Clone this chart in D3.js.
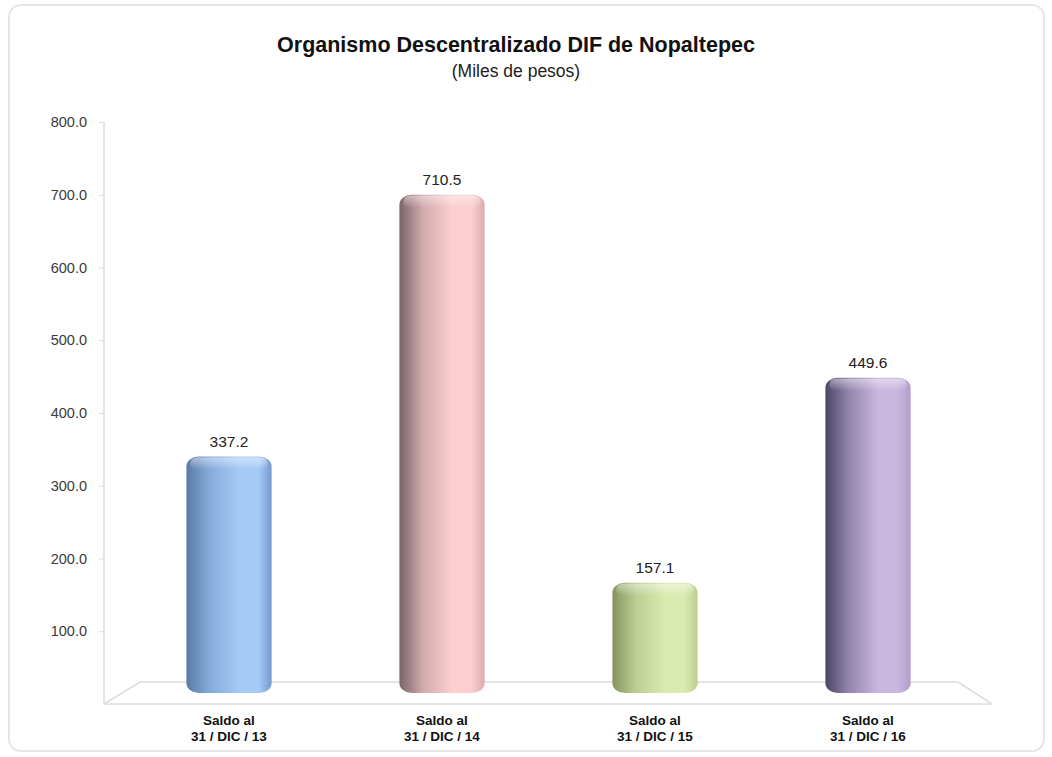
<!DOCTYPE html>
<html><head><meta charset="utf-8">
<script src="https://cdn.jsdelivr.net/npm/d3@7/dist/d3.min.js"></script>
<style>body{margin:0;background:#fff}svg{display:block}</style>
</head><body><svg id="c" width="1052" height="757"></svg>
<script>
const categories = ["Saldo al\n31 / DIC / 13","Saldo al\n31 / DIC / 14","Saldo al\n31 / DIC / 15","Saldo al\n31 / DIC / 16"];
const values = [337.2, 710.5, 157.1, 449.6];
const valueLabels = ["337.2","710.5","157.1","449.6"];
const yTicks = [100,200,300,400,500,600,700,800];
const palettes = [
  {dark:"#5a7ba6", mid:"#86acdc", light:"#a6caf6", edge:"#7499cc"},
  {dark:"#7a6468", mid:"#d3abaf", light:"#fbcfce", edge:"#dcaaad"},
  {dark:"#84945f", mid:"#bccf94", light:"#dbeab0", edge:"#bccd90"},
  {dark:"#4c4664", mid:"#9586ae", light:"#c9b7e0", edge:"#b09dcb"}
];
const FONT = "Liberation Sans, Arial, sans-serif";

const svg = d3.select("#c");
const defs = svg.append("defs");

svg.append("rect").attr("x",9).attr("y",5).attr("width",1035).attr("height",746)
  .attr("rx",12).attr("fill","#fff").attr("stroke","#e6e6e6").attr("stroke-width",2);

svg.append("text").attr("x",516).attr("y",52).attr("text-anchor","middle")
  .attr("font-family",FONT).attr("font-weight","bold")
  .attr("font-size",21.5).attr("fill","#111").text("Organismo Descentralizado DIF de Nopaltepec");
svg.append("text").attr("x",516).attr("y",77).attr("text-anchor","middle")
  .attr("font-family",FONT)
  .attr("font-size",17.5).attr("fill","#222").text("(Miles de pesos)");

// front-plane axis scale and back-plane (3D depth) bar scale
const y = d3.scaleLinear().domain([0,800]).range([704,122]);
const yBar = d3.scaleLinear().domain([0,800]).range([693,132]);
const x = d3.scaleBand().domain(categories).range([122.5,974.5]).paddingInner(0.6).paddingOuter(0.3);
const depth = 22, skew = 36;

const floorG = svg.append("g").attr("fill","none").attr("stroke","#dcdcdc").attr("stroke-width",1.5);
floorG.append("path").attr("d",
  `M104,${y(0)} L${104+skew},${y(0)-depth} L958,${y(0)-depth} L992,${y(0)}`);
floorG.append("line").attr("x1",104).attr("x2",992).attr("y1",y(0)).attr("y2",y(0));

const yAxis = d3.axisLeft(y).tickValues(yTicks).tickFormat(d3.format(".1f")).tickSize(5).tickPadding(12);
const ga = svg.append("g").attr("transform","translate(104,0)").call(yAxis);
ga.select(".domain").attr("stroke","#dcdcdc").attr("stroke-width",1.5).attr("d",`M0,${y(800)}V${y(0)}`);
ga.selectAll(".tick line").attr("stroke","#dcdcdc");
ga.selectAll(".tick text").attr("font-family",FONT)
  .attr("font-size",14.5).attr("fill","#3a3a3a");

const base = yBar(0);
categories.forEach((c,i)=>{
  const p = palettes[i];
  const gid = "g"+i;
  const lg = defs.append("linearGradient").attr("id",gid).attr("x1","0").attr("x2","1").attr("y1","0").attr("y2","0");
  [[0,p.dark],[0.28,p.mid],[0.62,p.light],[0.85,p.light],[1,p.edge]].forEach(s=>
    lg.append("stop").attr("offset",s[0]).attr("stop-color",s[1]));
  const tg = defs.append("linearGradient").attr("id","t"+i).attr("x1","0").attr("x2","0").attr("y1","0").attr("y2","1");
  tg.append("stop").attr("offset",0).attr("stop-color","#fff").attr("stop-opacity",0.45);
  tg.append("stop").attr("offset",1).attr("stop-color","#fff").attr("stop-opacity",0);
  const bx = x(c), bw = x.bandwidth(), top = yBar(values[i]);
  svg.append("rect").attr("x",bx).attr("y",top).attr("width",bw).attr("height",base-top)
    .attr("rx",12).attr("ry",10).attr("fill",`url(#${gid})`);
  svg.append("rect").attr("x",bx+4).attr("y",top+1).attr("width",bw-8).attr("height",12)
    .attr("rx",6).attr("fill",`url(#t${i})`);
  svg.append("text").attr("x",bx+bw/2).attr("y",top-10).attr("text-anchor","middle")
    .attr("font-family",FONT).attr("font-size",15.5).attr("fill","#222")
    .text(valueLabels[i]);
  c.split("\n").forEach((l,k)=>{
    svg.append("text").attr("x",bx+bw/2).attr("y",725+k*16).attr("text-anchor","middle")
      .attr("font-family",FONT).attr("font-weight","bold")
      .attr("font-size",13.5).attr("fill","#111").text(l);
  });
});
</script></body></html>
